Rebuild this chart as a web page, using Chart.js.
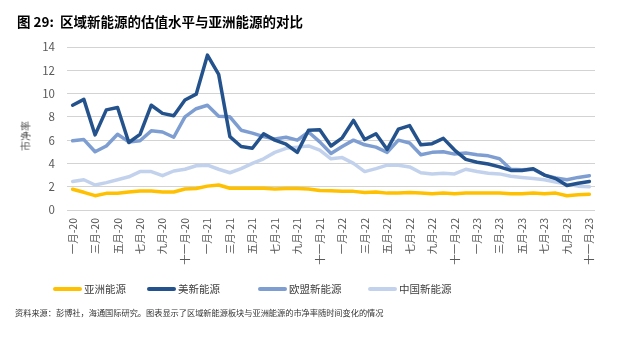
<!DOCTYPE html>
<html><head><meta charset="utf-8">
<script src="https://cdn.jsdelivr.net/npm/chart.js@4.4.1/dist/chart.umd.min.js"></script>
<style>
html,body{margin:0;padding:0;background:#fff;}
#wrap{position:relative;width:618px;height:344px;overflow:hidden;font-family:"Noto Sans CJK SC","Noto Sans",sans-serif;}
#c{position:absolute;left:0;top:0;}
.title{position:absolute;left:17px;top:11px;font-size:13.5px;font-weight:bold;color:#000;white-space:nowrap;}
.ytitle{position:absolute;left:25px;top:136px;transform:translate(-50%,-50%) rotate(-90deg);font-size:10px;color:#595959;white-space:nowrap;}
.legend{position:absolute;top:281px;font-size:10.5px;color:#404040;white-space:nowrap;display:flex;align-items:center;}
.legend i{display:inline-block;width:29px;height:4px;border-radius:2px;margin-right:2px;}
.foot{position:absolute;left:15px;top:306px;font-size:8.2px;color:#333;white-space:nowrap;}
</style>
</head><body>
<div id="wrap">
<canvas id="c" width="618" height="344"></canvas>
<div class="title">图 29:&nbsp; 区域新能源的估值水平与亚洲能源的对比</div>
<div class="ytitle">市净率</div>
<div id="leg"></div>
<div class="foot">资料来源：彭博社，海通国际研究。图表显示了区域新能源板块与亚洲能源的市净率随时间变化的情况</div>
</div>
<script>
const categories = [
 "一月-20","二月-20","三月-20","四月-20","五月-20","六月-20","七月-20","八月-20","九月-20","十月-20","十一月-20","十二月-20",
 "一月-21","二月-21","三月-21","四月-21","五月-21","六月-21","七月-21","八月-21","九月-21","十月-21","十一月-21","十二月-21",
 "一月-22","二月-22","三月-22","四月-22","五月-22","六月-22","七月-22","八月-22","九月-22","十月-22","十一月-22","十二月-22",
 "一月-23","二月-23","三月-23","四月-23","五月-23","六月-23","七月-23","八月-23","九月-23","十月-23","十一月-23"
];
const seriesNames = ["亚洲能源","美新能源","欧盟新能源","中国新能源"];
const asiaEnergy = [1.78,1.52,1.23,1.43,1.43,1.55,1.63,1.63,1.55,1.55,1.8,1.85,2.05,2.15,1.87,1.87,1.87,1.87,1.8,1.85,1.85,1.8,1.68,1.65,1.6,1.6,1.5,1.55,1.45,1.45,1.5,1.45,1.4,1.45,1.4,1.45,1.45,1.45,1.45,1.4,1.4,1.45,1.4,1.45,1.22,1.3,1.35];
const usNewEnergy = [9.0,9.5,6.45,8.6,8.8,5.8,6.5,9.0,8.3,8.1,9.45,9.95,13.3,11.65,6.3,5.45,5.3,6.55,6.0,5.65,4.95,6.85,6.9,5.5,6.2,7.7,6.05,6.55,5.2,6.95,7.25,5.6,5.7,6.15,5.15,4.35,4.1,3.95,3.7,3.4,3.4,3.55,3.0,2.7,2.1,2.3,2.45];
const euNewEnergy = [5.95,6.05,5.0,5.5,6.5,5.85,5.95,6.8,6.7,6.25,8.0,8.7,9.0,8.05,8.0,6.85,6.6,6.3,6.1,6.25,6.0,6.7,5.85,4.85,5.45,6.0,5.6,5.4,4.95,6.0,5.75,4.75,4.95,5.0,4.8,4.9,4.75,4.65,4.4,3.5,3.45,3.5,3.0,2.75,2.6,2.8,2.95];
const cnNewEnergy = [2.45,2.6,2.15,2.35,2.6,2.85,3.3,3.3,2.95,3.35,3.5,3.8,3.85,3.5,3.2,3.55,4.0,4.4,4.95,5.3,5.4,5.5,5.15,4.4,4.5,4.0,3.3,3.55,3.85,3.85,3.7,3.2,3.1,3.15,3.1,3.5,3.3,3.15,3.1,2.9,2.8,2.7,2.6,2.4,2.2,2.05,2.0];

const colors = ["#FFC000","#24528C","#7E9ED2","#C3D2EC"];
const legendX = [53,147,258,368];

const fontFam = '"Noto Sans CJK SC","Noto Sans",sans-serif';
const allSeries = [asiaEnergy, usNewEnergy, euNewEnergy, cnNewEnergy];
const datasets = allSeries.map((d,i)=>({
  label: seriesNames[i], data: d, borderColor: colors[i], backgroundColor: colors[i],
  borderWidth: 3.5, pointRadius: 0, tension: 0, borderJoinStyle: 'round', borderCapStyle: 'round', fill: false
}));

// legend (HTML text)
const leg = document.getElementById('leg');
seriesNames.forEach((n,i)=>{
  const d = document.createElement('div');
  d.className='legend'; d.style.left = legendX[i]+'px';
  d.innerHTML = '<i style="background:'+colors[i]+'"></i>'+n;
  leg.appendChild(d);
});

new Chart(document.getElementById('c'), {
  type: 'line',
  data: { labels: categories, datasets },
  options: {
    responsive: false, animation: false, devicePixelRatio: 1,
    layout: { padding: { top: 47, right: 23, left: 0, bottom: 0 } },
    plugins: { legend: { display: false }, tooltip: { enabled: false } },
    scales: {
      x: {
        offset: true,
        grid: { display: false, drawTicks: false },
        border: { display: false },
        ticks: {
          autoSkip: false, minRotation: 90, maxRotation: 90, padding: 8,
          color: '#595959', font: { family: fontFam, size: 10.5 },
          callback: function(v, i){ return i % 2 === 0 ? categories[i] : ''; }
        },
        afterFit: s => { s.height = 134; }
      },
      y: {
        min: 0, max: 14,
        grid: { color: '#D3D3D3', lineWidth: 1, drawTicks: false },
        border: { display: false },
        ticks: { stepSize: 2, padding: 12, color: '#595959', font: { family: fontFam, size: 11.5 } },
        afterFit: s => { s.width = 67; }
      }
    }
  }
});
</script>
</body></html>
